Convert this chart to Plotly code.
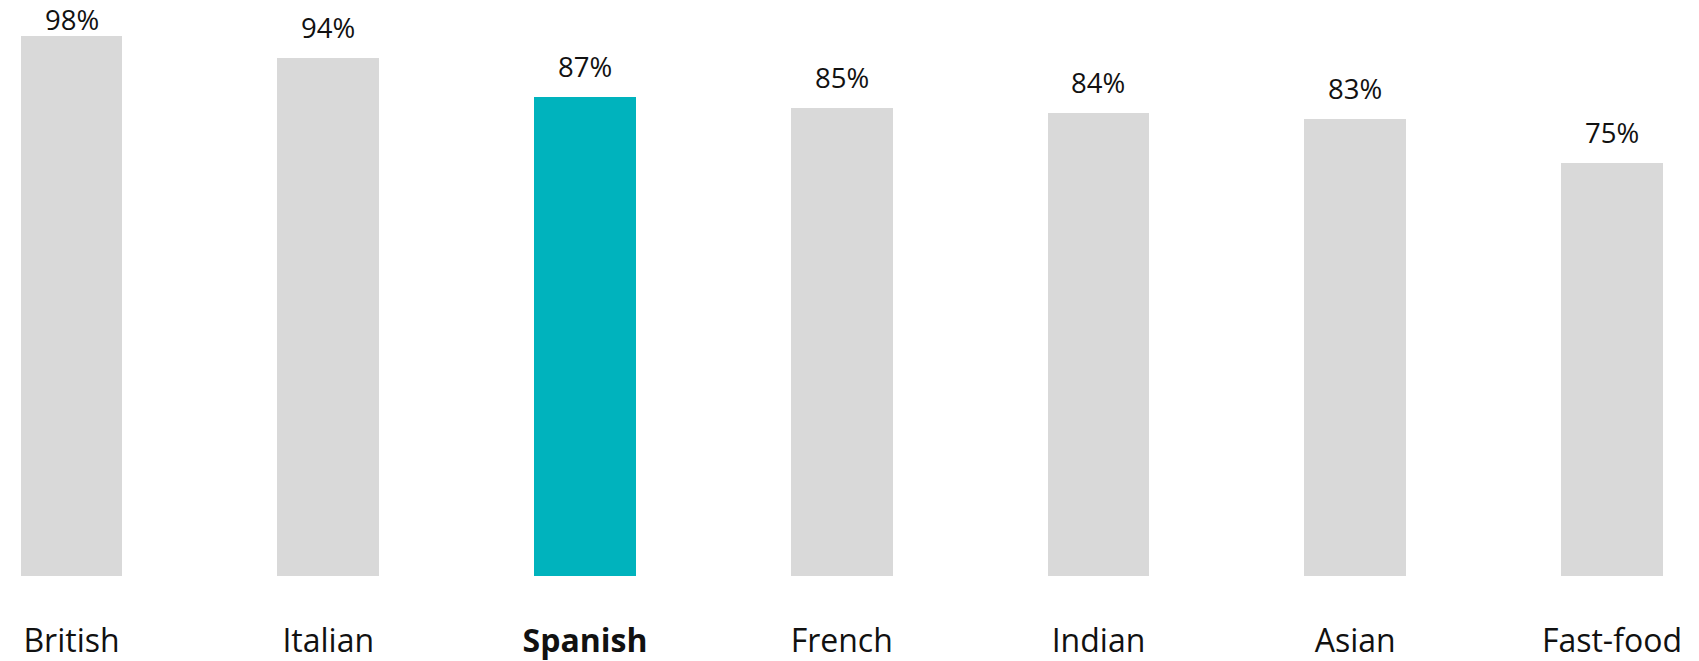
import plotly.graph_objects as go

# Share of respondents by cuisine
cuisines = ["British", "Italian", "Spanish", "French", "Indian", "Asian", "Fast-food"]
shares = [98, 94, 87, 85, 84, 83, 75]
highlight = "Spanish"

GREY = "#D9D9D9"
TEAL = "#00B3BD"
TEXT = "#111111"

WIDTH, HEIGHT = 1699, 661
MARGIN = dict(l=0, r=0, t=25, b=85)
Y_MAX = 100
LABEL_SIZE = 27.5

colors = [TEAL if c == highlight else GREY for c in cuisines]
tick_text = [f"<b>{c}</b>" if c == highlight else c for c in cuisines]
positions = list(range(len(cuisines)))

fig = go.Figure(
    go.Bar(
        x=positions,
        y=shares,
        marker=dict(color=colors, line=dict(width=0)),
        width=0.397,
        hoverinfo="skip",
    )
)

# Value labels sit a fixed gap above each bar, but are pushed down when
# they would otherwise run off the top of the canvas.
plot_h = HEIGHT - MARGIN["t"] - MARGIN["b"]
px_per_unit = plot_h / Y_MAX
box_h = LABEL_SIZE * 1.35 + 3
gap = 10
for x, v in zip(positions, shares):
    bar_top_px = MARGIN["t"] + (Y_MAX - v) * px_per_unit
    box_bottom = max(bar_top_px - gap, box_h)
    fig.add_annotation(
        x=x,
        y=v,
        xref="x",
        yref="y",
        text=f"{v}%",
        showarrow=False,
        yanchor="bottom",
        yshift=bar_top_px - box_bottom,
        font=dict(family="Open Sans", size=LABEL_SIZE, color=TEXT),
    )

fig.update_layout(
    width=WIDTH,
    height=HEIGHT,
    margin=MARGIN,
    paper_bgcolor="white",
    plot_bgcolor="white",
    showlegend=False,
    bargap=0,
    font=dict(family="Open Sans", color=TEXT),
    xaxis=dict(
        range=[-0.2785, 6.339],
        tickmode="array",
        tickvals=positions,
        ticktext=tick_text,
        tickfont=dict(family="Open Sans", size=32, color=TEXT),
        showgrid=False,
        zeroline=False,
        showline=False,
        ticks="",
        ticklabelstandoff=43,
    ),
    yaxis=dict(
        range=[0, Y_MAX],
        visible=False,
        showgrid=False,
        zeroline=False,
    ),
)

fig.write_html("out.html")
